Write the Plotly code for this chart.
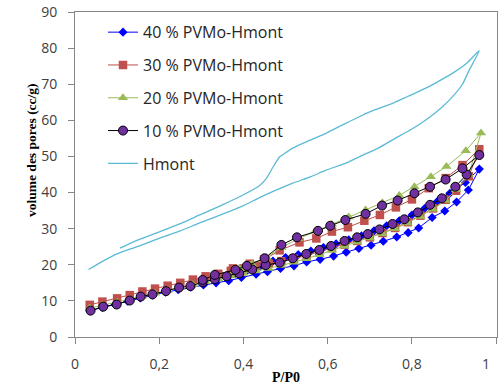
import plotly.graph_objects as go

# ---------------- data ----------------
pvmo40_x = [0.035, 0.065, 0.095, 0.125, 0.155, 0.185, 0.215, 0.245, 0.275, 0.305, 0.335, 0.365,
            0.395, 0.43, 0.457, 0.488, 0.52, 0.55, 0.582, 0.614, 0.644, 0.674, 0.703, 0.732,
            0.764, 0.791, 0.816, 0.848, 0.878, 0.906, 0.934, 0.96,
            0.927, 0.89, 0.86, 0.83, 0.80, 0.77, 0.74, 0.71, 0.68, 0.65, 0.62, 0.59, 0.56,
            0.53, 0.50, 0.47, 0.44, 0.41, 0.38]
pvmo40_y = [7.3, 8.2, 9.0, 9.9, 10.8, 11.6, 12.4, 13.1, 13.8, 14.4, 15.0, 15.6,
            16.5, 17.4, 18.1, 19.0, 19.7, 20.8, 21.5, 22.4, 23.5, 24.5, 25.4, 26.5,
            27.7, 28.9, 30.2, 33.1, 34.9, 37.4, 40.7, 46.5,
            42.8, 39.8, 37.5, 35.6, 33.8, 32.2, 30.8, 29.4, 28.0, 26.9, 25.8, 24.8, 23.8,
            22.8, 22.0, 21.0, 19.6, 18.6, 17.6]

pvmo30_x = [0.035, 0.065, 0.10, 0.13, 0.16, 0.19, 0.22, 0.25, 0.28, 0.31, 0.34, 0.37,
            0.40, 0.43, 0.46, 0.49, 0.52, 0.55, 0.58, 0.61, 0.64, 0.67, 0.70, 0.73,
            0.76, 0.79, 0.82, 0.85, 0.88, 0.905, 0.935, 0.96,
            0.92, 0.88, 0.84, 0.80, 0.762, 0.724, 0.687, 0.648, 0.61, 0.573, 0.533,
            0.486, 0.45, 0.415, 0.375]
pvmo30_y = [8.9, 9.8, 10.7, 11.6, 12.6, 13.4, 14.2, 15.0, 15.9, 16.8, 17.5, 18.3,
            19.0, 19.7, 20.3, 21.0, 21.7, 22.6, 23.6, 24.6, 25.6, 26.6, 27.6, 28.8,
            30.2, 31.8, 33.6, 35.6, 38.0, 40.5, 44.5, 52.0,
            47.6, 44.0, 41.2, 38.1, 35.9, 33.8, 32.2, 30.4, 29.2, 27.3, 26.2,
            24.0, 21.5, 20.3, 19.0]

pvmo20_x = [0.035, 0.065, 0.10, 0.13, 0.16, 0.19, 0.22, 0.25, 0.28, 0.31, 0.34, 0.37,
            0.40, 0.43, 0.46, 0.49, 0.52, 0.55, 0.58, 0.61, 0.64, 0.67, 0.70, 0.73,
            0.76, 0.79, 0.82, 0.85, 0.88, 0.905, 0.935, 0.964,
            0.928, 0.882, 0.845, 0.806, 0.77, 0.73, 0.69, 0.65, 0.61, 0.57, 0.53,
            0.49, 0.455, 0.42, 0.39]
pvmo20_y = [8.0, 8.8, 9.6, 10.4, 11.3, 12.1, 12.9, 13.7, 14.5, 15.3, 16.1, 16.9,
            17.6, 18.3, 19.0, 19.8, 20.7, 21.7, 22.8, 24.0, 25.2, 26.3, 27.4, 28.6,
            30.0, 31.6, 33.4, 35.4, 37.8, 40.8, 45.0, 56.5,
            51.6, 47.2, 44.4, 41.6, 39.2, 37.2, 35.2, 33.2, 31.2, 29.2, 27.2,
            24.8, 22.0, 20.2, 19.0]

pvmo10_x = [0.037, 0.067, 0.099, 0.13, 0.156, 0.184, 0.216, 0.247, 0.274, 0.303, 0.332, 0.36,
            0.39, 0.421, 0.453, 0.486, 0.517, 0.549, 0.58, 0.608, 0.64, 0.67, 0.695, 0.723,
            0.754, 0.782, 0.814, 0.843, 0.871, 0.903, 0.93, 0.96,
            0.92, 0.88, 0.843, 0.806, 0.766, 0.729, 0.69, 0.642, 0.606, 0.577, 0.527,
            0.49, 0.45, 0.408, 0.381, 0.332, 0.303]
pvmo10_y = [7.3, 8.4, 9.0, 10.1, 11.2, 11.8, 12.7, 13.7, 14.1, 15.2, 16.0, 16.8,
            17.6, 18.7, 19.9, 20.6, 21.8, 23.0, 24.1, 25.2, 26.6, 27.6, 28.5, 29.8,
            31.3, 32.6, 34.5, 36.6, 38.4, 41.6, 45.0, 50.4,
            46.7, 43.6, 41.6, 39.8, 37.8, 36.4, 34.1, 32.4, 30.8, 29.4, 27.6,
            25.5, 21.8, 19.7, 18.6, 17.2, 15.8]

hmont_x = [0.032, 0.06, 0.10, 0.15, 0.19, 0.25, 0.296, 0.35, 0.40, 0.438, 0.48, 0.517,
           0.56, 0.596, 0.64, 0.675, 0.72, 0.754, 0.80, 0.833, 0.87, 0.896, 0.92, 0.936, 0.96,
           0.93, 0.896, 0.86, 0.833, 0.79, 0.754, 0.71, 0.675, 0.64, 0.596, 0.56, 0.517,
           0.50, 0.486, 0.47, 0.455, 0.438, 0.40, 0.35, 0.296, 0.25, 0.20, 0.15, 0.107]
hmont_y = [18.7, 20.6, 23.0, 25.1, 26.9, 29.4, 31.6, 34.0, 36.4, 38.6, 40.8, 42.6,
           44.4, 46.2, 48.0, 49.9, 52.3, 54.6, 57.6, 60.1, 63.5, 66.5, 70.0, 73.9, 79.3,
           75.8, 73.0, 70.6, 68.9, 66.6, 64.7, 62.8, 61.0, 59.0, 56.4, 54.6, 52.3,
           51.0, 49.9, 47.0, 44.0, 41.9, 39.4, 36.6, 33.8, 31.4, 29.1, 26.9, 24.6]

series_names = ["40 % PVMo-Hmont", "30 % PVMo-Hmont", "20 % PVMo-Hmont",
                "10 % PVMo-Hmont", "Hmont"]
x_ticks = [0, 0.2, 0.4, 0.6, 0.8, 1]
x_tick_labels = ["0", "0,2", "0,4", "0,6", "0,8", "1"]
y_ticks = [0, 10, 20, 30, 40, 50, 60, 70, 80, 90]

# ---------------- figure ----------------
W, H = 499, 389
ML, MR, MT, MB = 75, 2, 12, 52
plot_w = W - ML - MR
plot_h = H - MT - MB

fig = go.Figure()

fig.add_trace(go.Scatter(
    x=pvmo40_x, y=pvmo40_y, name=series_names[0], legendgroup="a", mode="lines+markers",
    line=dict(color="#0000ff", width=1),
    marker=dict(symbol="diamond", size=7, color="#0000ff")))
fig.add_trace(go.Scatter(
    x=pvmo30_x, y=pvmo30_y, name=series_names[1], legendgroup="b", mode="lines+markers",
    line=dict(color="#c0504d", width=1),
    marker=dict(symbol="square", size=8.5, color="#c0504d")))
fig.add_trace(go.Scatter(
    x=pvmo20_x, y=pvmo20_y, name=series_names[2], legendgroup="c", mode="lines+markers",
    line=dict(color="#9bbb59", width=1),
    marker=dict(symbol="triangle-up", size=9, color="#9bbb59")))
fig.add_trace(go.Scatter(
    x=pvmo10_x, y=pvmo10_y, name=series_names[3], legendgroup="d", mode="lines+markers",
    line=dict(color="#000000", width=1),
    marker=dict(symbol="circle", size=9, color="#7030a0", line=dict(color="#000000", width=1))))
fig.add_trace(go.Scatter(
    x=hmont_x, y=hmont_y, name=series_names[4], legendgroup="e", mode="lines",
    line=dict(color="#5bbad5", width=1.3, shape="spline", smoothing=0.6)))

tick_font = dict(family="Open Sans, Lato, sans-serif", size=14, color="#404040")
axis_common = dict(
    showgrid=False, zeroline=False, showline=True, linecolor="#868686", linewidth=1,
    mirror=True, ticks="outside", ticklen=6, tickcolor="#868686",
    tickfont=tick_font, ticklabeloverflow="allow",
)

annotations = [
    dict(text="<b>P/P0</b>", x=0.5, xref="paper", y=-(368 - (H - MB)) / plot_h,
         yref="paper", xanchor="center", yanchor="top", showarrow=False,
         font=dict(family="Liberation Serif, Times New Roman, serif", size=14,
                   color="#000000")),
    dict(text="<b>volume des pores (cc/g)</b>",
         x=(31 - ML) / plot_w, xref="paper",
         y=((H - MB) - 150) / plot_h, yref="paper",
         xanchor="center", yanchor="middle", showarrow=False, textangle=-90,
         font=dict(family="Liberation Serif, Times New Roman, serif", size=13.5,
                   color="#000000")),
    # last x tick label sits on the page edge; drawn as an annotation kept inside the page
    dict(text=x_tick_labels[-1], x=1.0, xref="paper",
         y=-(363 - (H - MB)) / plot_h, yref="paper",
         xanchor="right", yanchor="middle", xshift=-5, showarrow=False, font=tick_font),
]

fig.update_layout(
    width=W, height=H,
    margin=dict(l=ML, r=MR, t=MT, b=MB),
    paper_bgcolor="white", plot_bgcolor="white",
    separators=", ",
    showlegend=True,
    legend=dict(
        x=(103 - ML) / plot_w, y=0.99, xanchor="left", yanchor="top",
        bgcolor="rgba(255,255,255,0)", borderwidth=0,
        traceorder="grouped", tracegroupgap=9,
        font=dict(family="Open Sans, Lato, sans-serif", size=16, color="#262626"),
        itemwidth=30,
    ),
    xaxis=dict(range=[0, 1.002], tickvals=x_ticks,
               ticktext=x_tick_labels[:-1] + [""], ticklabelstandoff=8, **axis_common),
    yaxis=dict(range=[0, 90], tickvals=y_ticks, ticklabelstandoff=8, **axis_common),
    annotations=annotations,
)

fig.write_html("out.html", config={"displayModeBar": False},
               post_script="document.body.style.margin='0';document.body.style.overflow='hidden';")
